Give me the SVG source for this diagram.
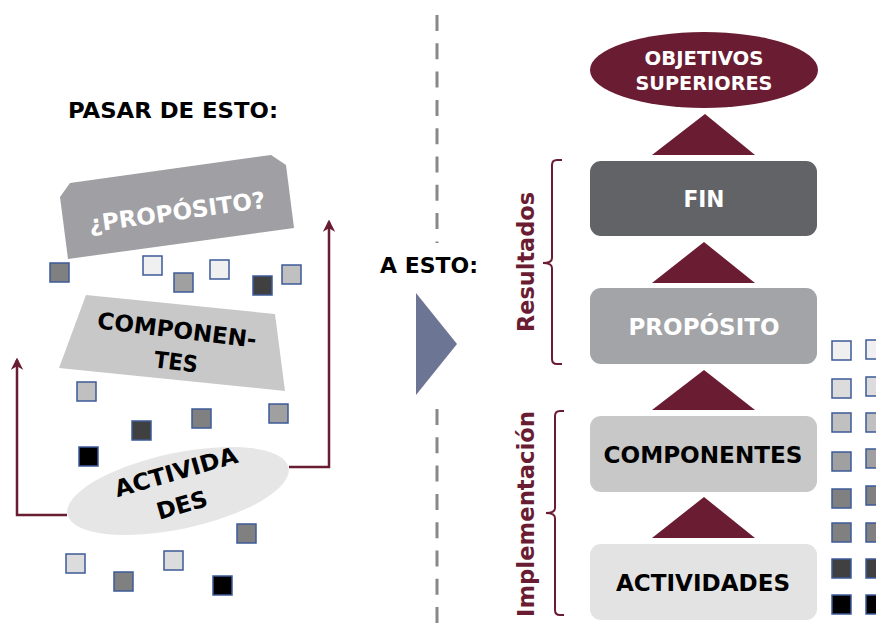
<svg xmlns="http://www.w3.org/2000/svg" width="876" height="629" viewBox="0 0 876 629">
<defs>
<style>
.t{font-family:"DejaVu Sans","Liberation Sans",sans-serif;font-weight:bold;}
.w{fill:#ffffff;}
.k{fill:#000000;}
.m{fill:#6a1c32;}
.sq{stroke:#3d5a98;stroke-width:1.5;}
.tri{fill:#6a1c32;}
.conn{fill:none;stroke:#6a1c32;stroke-width:2.5;}
.br{fill:none;stroke:#6a1c32;stroke-width:2;}
.dash{stroke:#888888;stroke-width:3;stroke-dasharray:16 12.3;}
</style>
<marker id="ah" viewBox="0 0 10 10" refX="8" refY="5" markerWidth="5" markerHeight="5" orient="auto" markerUnits="strokeWidth">
<path d="M0,0 L10,5 L0,10 L3,5 z" fill="#6a1c32"/>
</marker>
</defs>
<rect width="876" height="629" fill="#ffffff"/>

<!-- divider -->
<g id="divider">
<line class="dash" x1="437" y1="15" x2="437" y2="243"/>
<line class="dash" x1="437" y1="409" x2="437" y2="623"/>
</g>

<!-- left side -->
<text class="t k" x="68" y="118" font-size="22" textLength="210" lengthAdjust="spacingAndGlyphs">PASAR DE ESTO:</text>

<g id="connectors">
<path class="conn" d="M67,515 H17 V360" marker-end="url(#ah)"/>
<path class="conn" d="M289,467 H329 V222" marker-end="url(#ah)"/>
</g>

<g id="proposito-left">
<polygon points="60,197 70,183 271,155 286,165 294,228 68,259" fill="#a0a0a4"/>
<text class="t w" x="177" y="220" font-size="23" text-anchor="middle" textLength="178" lengthAdjust="spacingAndGlyphs" transform="rotate(-8 177 212)">¿PROPÓSITO?</text>
</g>

<g id="componentes-left">
<polygon points="86,295 275,314 285,391 59,368" fill="#c8c8c8"/>
<text class="t k" x="177" y="338" font-size="23" text-anchor="middle" textLength="160" lengthAdjust="spacingAndGlyphs" transform="rotate(7 177 330)">COMPONEN-</text>
<text class="t k" x="176" y="370" font-size="23" text-anchor="middle" textLength="44" lengthAdjust="spacingAndGlyphs" transform="rotate(7 176 362)">TES</text>
</g>

<g id="actividades-left">
<ellipse cx="178" cy="491" rx="113" ry="38" fill="#e6e6e6" transform="rotate(-12 178 491)"/>
<text class="t k" x="176" y="480" font-size="23" text-anchor="middle" textLength="127" lengthAdjust="spacingAndGlyphs" transform="rotate(-16 176 472)">ACTIVIDA</text>
<text class="t k" x="182" y="513" font-size="23" text-anchor="middle" textLength="52" lengthAdjust="spacingAndGlyphs" transform="rotate(-16 182 505)">DES</text>
</g>

<g id="squares-left">
<rect class="sq" x="50" y="263" width="19" height="19" fill="#808080"/>
<rect class="sq" x="143" y="256" width="19" height="19" fill="#f0f0f0"/>
<rect class="sq" x="174" y="273" width="19" height="19" fill="#a0a0a0"/>
<rect class="sq" x="210" y="260" width="19" height="19" fill="#f0f0f0"/>
<rect class="sq" x="253" y="276" width="19" height="19" fill="#404040"/>
<rect class="sq" x="282" y="265" width="19" height="19" fill="#c0c0c0"/>
<rect class="sq" x="77" y="382" width="19" height="19" fill="#c0c0c0"/>
<rect class="sq" x="132" y="421" width="19" height="19" fill="#404040"/>
<rect class="sq" x="192" y="409" width="19" height="19" fill="#808080"/>
<rect class="sq" x="269" y="404" width="19" height="19" fill="#a0a0a0"/>
<rect class="sq" x="79" y="447" width="19" height="19" fill="#000000"/>
<rect class="sq" x="237" y="524" width="19" height="19" fill="#808080"/>
<rect class="sq" x="66" y="554" width="19" height="19" fill="#dcdcdc"/>
<rect class="sq" x="114" y="572" width="19" height="19" fill="#808080"/>
<rect class="sq" x="164" y="551" width="19" height="19" fill="#dcdcdc"/>
<rect class="sq" x="213" y="576" width="19" height="19" fill="#000000"/>
</g>

<!-- middle -->
<text class="t k" x="380" y="273" font-size="22" textLength="98" lengthAdjust="spacingAndGlyphs">A ESTO:</text>
<polygon id="play" points="416,293 457,344 416,395" fill="#6d7594"/>

<!-- right side -->
<g id="objetivos">
<ellipse cx="704" cy="70" rx="114" ry="38" fill="#6a1c32"/>
<text class="t w" x="704" y="65" font-size="19" text-anchor="middle" textLength="119" lengthAdjust="spacingAndGlyphs">OBJETIVOS</text>
<text class="t w" x="704" y="90" font-size="19" text-anchor="middle" textLength="137" lengthAdjust="spacingAndGlyphs">SUPERIORES</text>
</g>

<g id="arrows-right">
<polygon class="tri" points="705,114 755,155 652,155"/>
<polygon class="tri" points="704,242 755,283 652,283"/>
<polygon class="tri" points="704,370 755,410 652,410"/>
<polygon class="tri" points="704,497 755,538 652,538"/>
</g>

<g id="fin">
<rect x="590" y="161" width="227" height="75" rx="11" fill="#626367"/>
<text class="t w" x="704" y="207" font-size="23" text-anchor="middle" textLength="41" lengthAdjust="spacingAndGlyphs">FIN</text>
</g>

<g id="proposito">
<rect x="590" y="288" width="227" height="76" rx="11" fill="#a3a4a8"/>
<text class="t w" x="704" y="335" font-size="23" text-anchor="middle" textLength="151" lengthAdjust="spacingAndGlyphs">PROPÓSITO</text>
</g>

<g id="componentes">
<rect x="590" y="416" width="227" height="76" rx="11" fill="#c8c8c8"/>
<text class="t k" x="703" y="463" font-size="23" text-anchor="middle" textLength="199" lengthAdjust="spacingAndGlyphs">COMPONENTES</text>
</g>

<g id="actividades">
<rect x="590" y="544" width="227" height="76" rx="11" fill="#e3e3e3"/>
<text class="t k" x="703" y="591" font-size="23" text-anchor="middle" textLength="174" lengthAdjust="spacingAndGlyphs">ACTIVIDADES</text>
</g>

<g id="resultados">
<path class="br" d="M562,160 H557 Q552,160 552,165 V258 Q552,263 543,263 Q552,263 552,268 V359 Q552,364 557,364 H562"/>
<text class="t m" x="534" y="262" font-size="23" text-anchor="middle" textLength="140" lengthAdjust="spacingAndGlyphs" transform="rotate(-90 534 262)">Resultados</text>
</g>

<g id="implementacion">
<path class="br" d="M564,411 H560 Q555,411 555,416 V508 Q555,513 546,513 Q555,513 555,518 V610 Q555,615 560,615 H564"/>
<text class="t m" x="534" y="514" font-size="23" text-anchor="middle" textLength="206" lengthAdjust="spacingAndGlyphs" transform="rotate(-90 534 514)">Implementación</text>
</g>

<g id="squares-right">
<rect class="sq" x="832" y="341" width="19" height="19" fill="#f0f0f0"/>
<rect class="sq" x="866" y="340" width="19" height="19" fill="#f0f0f0"/>
<rect class="sq" x="832" y="379" width="19" height="19" fill="#dcdcdc"/>
<rect class="sq" x="866" y="377" width="19" height="19" fill="#dcdcdc"/>
<rect class="sq" x="832" y="413" width="19" height="19" fill="#c0c0c0"/>
<rect class="sq" x="866" y="413" width="19" height="19" fill="#c0c0c0"/>
<rect class="sq" x="832" y="452" width="19" height="19" fill="#a0a0a0"/>
<rect class="sq" x="866" y="449" width="19" height="19" fill="#a0a0a0"/>
<rect class="sq" x="832" y="489" width="19" height="19" fill="#808080"/>
<rect class="sq" x="866" y="486" width="19" height="19" fill="#808080"/>
<rect class="sq" x="832" y="523" width="19" height="19" fill="#808080"/>
<rect class="sq" x="866" y="523" width="19" height="19" fill="#808080"/>
<rect class="sq" x="832" y="559" width="19" height="19" fill="#404040"/>
<rect class="sq" x="866" y="559" width="19" height="19" fill="#404040"/>
<rect class="sq" x="832" y="595" width="19" height="19" fill="#000000"/>
<rect class="sq" x="866" y="595" width="19" height="19" fill="#000000"/>
</g>
</svg>
